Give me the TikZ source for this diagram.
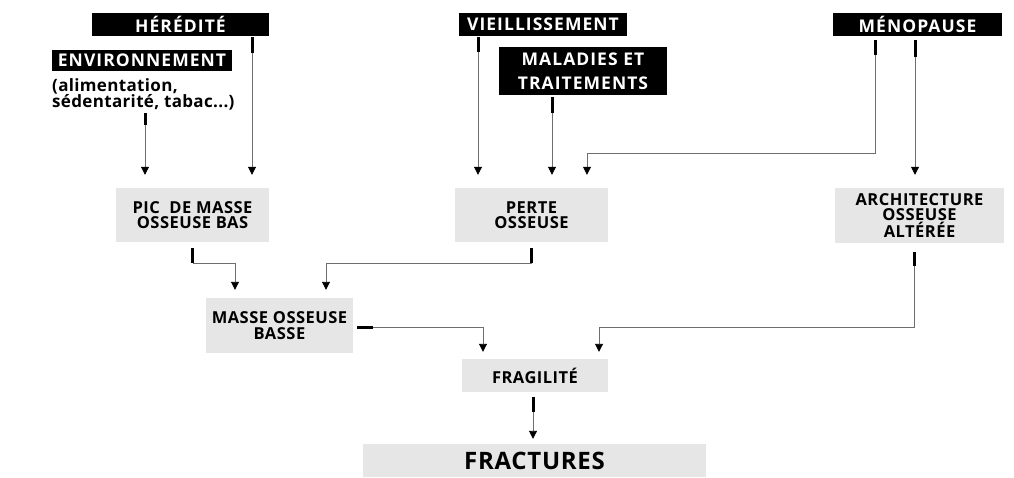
\documentclass[tikz,border=0pt]{standalone}
\usepackage{fontspec}
\setmainfont{Open Sans}
\newfontfamily\labfont[LetterSpace=6]{Open Sans}
\newfontfamily\boxfont[LetterSpace=3]{Open Sans}
\newfontfamily\notefont[LetterSpace=2]{Open Sans}
\usetikzlibrary{arrows.meta}
\definecolor{boxgray}{HTML}{E6E6E6}
\definecolor{linegray}{HTML}{6E6E6E}

\begin{document}
\begin{tikzpicture}[x=1pt, y=-1pt,
    factor/.style={fill=black, text=white, inner sep=0pt, align=center,
        font=\labfont\fontsize{17.5}{24}\selectfont\bfseries},
    effect/.style={fill=boxgray, inner sep=0pt, align=center,
        font=\boxfont\fontsize{16.5}{15.5}\selectfont\bfseries},
    stub/.style={line width=3pt, black},
    link/.style={line width=0.9pt, linegray, -{Triangle[width=8pt, length=8pt, black]}}]
    \useasboundingbox (0,0) rectangle (1014,478);

    \node[factor, minimum width=177pt, minimum height=23pt] (her) at (180.5,24.5) {HÉRÉDITÉ};
    \node[factor, minimum width=180pt, minimum height=21pt] (env) at (142,60.5) {ENVIRONNEMENT};
    \node[inner sep=0pt, anchor=north west, align=left,
        font=\notefont\fontsize{17}{16}\selectfont\bfseries] (envnote) at (52,78) {(alimentation,\\sédentarité, tabac...)};
    \node[factor, minimum width=168pt, minimum height=23pt] (vie) at (543,24.5) {VIEILLISSEMENT};
    \node[factor, minimum width=168pt, minimum height=48pt] (mal) at (583,71) {MALADIES ET\\TRAITEMENTS};
    \node[factor, minimum width=169pt, minimum height=23pt] (meno) at (917.5,24.5) {MÉNOPAUSE};

    \node[effect, minimum width=153pt, minimum height=54pt] (pic) at (192.5,215) {PIC\ \ DE MASSE\\OSSEUSE BAS};
    \node[effect, minimum width=153pt, minimum height=54pt] (perte) at (531.5,215) {PERTE\\OSSEUSE};
    \node[effect, minimum width=169pt, minimum height=55pt] (arch) at (919.5,215.5) {ARCHITECTURE\\OSSEUSE\\ALTÉRÉE};
    \node[effect, minimum width=147pt, minimum height=55pt] (masse) at (279.5,325.5) {MASSE OSSEUSE\\BASSE};
    \node[effect, minimum width=146pt, minimum height=33pt] (frag) at (535,375.5) {FRAGILITÉ};
    \node[effect, minimum width=343pt, minimum height=33pt,
        font=\boxfont\fontsize{24}{24}\selectfont\bfseries] (frac) at (534.5,460.5) {FRACTURES};

    % facteurs -> effets
    \draw[stub] ([xshift=93pt, yshift=-3pt]envnote.south west) -- ++(0,12) coordinate (e1);
    \draw[link] (e1) -- ([yshift=13pt]e1 |- pic.north);
    \draw[stub] ([xshift=71.5pt, yshift=-1pt]her.south) -- ++(0,16) coordinate (h1);
    \draw[link] (h1) -- ([yshift=13pt]h1 |- pic.north);
    \draw[stub] ([xshift=-65pt, yshift=-1pt]vie.south) -- ++(0,15) coordinate (v1);
    \draw[link] (v1) -- ([yshift=13pt]v1 |- perte.north);
    \draw[stub] ([xshift=-31pt, yshift=-2pt]mal.south) -- ++(0,16) coordinate (m1);
    \draw[link] (m1) -- ([yshift=13pt]m1 |- perte.north);
    \draw[stub] ([xshift=-42.5pt, yshift=-4pt]meno.south) -- ++(0,15) coordinate (n1);
    \draw[link] (n1) -- ++(0,98) -| ([xshift=55.5pt, yshift=13pt]perte.north);
    \draw[stub] ([xshift=-2.5pt, yshift=-4pt]meno.south) -- ++(0,17) coordinate (n2);
    \draw[link] (n2) -- ([yshift=13pt]n2 |- arch.north);

    % effets -> fragilite
    \draw[stub] ([yshift=-6pt]pic.south) -- ++(0,15) coordinate (p1);
    \draw[link] (p1) -| ([xshift=-44.5pt, yshift=8pt]masse.north);
    \draw[stub] ([yshift=-6pt]perte.south) -- ++(0,15) coordinate (p2);
    \draw[link] (p2) -| ([xshift=46.5pt, yshift=8pt]masse.north);
    \draw[stub] ([xshift=4pt, yshift=-1.5pt]masse.east) -- ++(16,0) coordinate (b1);
    \draw[link] (b1) -| ([xshift=-52pt, yshift=7pt]frag.north);
    \draw[stub] ([xshift=-5.5pt, yshift=-9pt]arch.south) -- ++(0,14) coordinate (a1);
    \draw[link] (a1) -- ++(0,61) -| ([xshift=64pt, yshift=7pt]frag.north);
    \draw[stub] ([xshift=-2pt, yshift=-5pt]frag.south) -- ++(0,15) coordinate (f1);
    \draw[link] (f1) -- ([yshift=5pt]f1 |- frac.north);

\end{tikzpicture}
\end{document}
